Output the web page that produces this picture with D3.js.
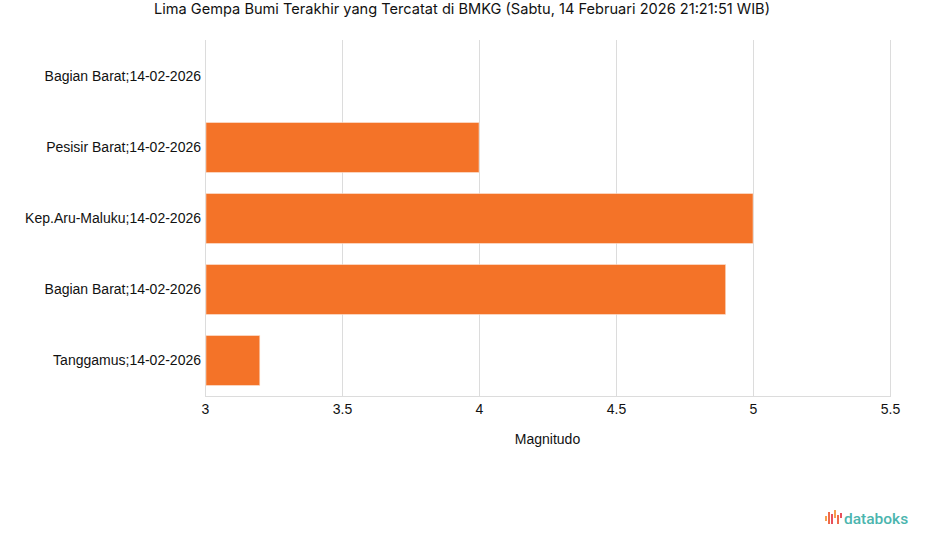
<!DOCTYPE html>
<html>
<head>
<meta charset="utf-8">
<script src="https://cdn.jsdelivr.net/npm/d3@7"></script>
<style>
  body{margin:0;background:#fff;font-family:"Liberation Sans",Arial,sans-serif;}
  .tick text{font-family:"Liberation Sans",Arial,sans-serif;}
</style>
</head>
<body>
<div class="Chart"></div>
<script>
const categories=['Bagian Barat;14-02-2026','Pesisir Barat;14-02-2026','Kep.Aru-Maluku;14-02-2026','Bagian Barat;14-02-2026','Tanggamus;14-02-2026']
const magnitudes=[3,4,5,4.9,3.2]
const xTicks=[3,3.5,4,4.5,5,5.5]
const titleText='Lima Gempa Bumi Terakhir yang Tercatat di BMKG (Sabtu, 14 Februari 2026 21:21:51 WIB)'

const W=925,H=547
const margin=({top:41,right:35,bottom:151,left:205})
const width=W-margin.left-margin.right,
      height=H-margin.top-margin.bottom

let root=d3.select('.Chart').append('svg')
  .attr('width',W)
  .attr('height',H)

root.append('text')
  .attr('x',462)
  .attr('y',14)
  .attr('text-anchor','middle')
  .attr('font-family','Inter,Roboto,sans-serif')
  .attr('font-size',14.6)
  .attr('fill','#111')
  .text(titleText)

let svg=root.append('g')
  .attr('transform','translate('+margin.left+','+margin.top+')')

let xScale=d3.scaleLinear()
  .domain([3,5.5])
  .range([0,width])

let yScale=d3.scaleBand()
  .domain(d3.range(categories.length))
  .range([0,height])
  .paddingInner(0.3)
  .paddingOuter(0.15)

// grid
svg.selectAll('.grid')
  .data(xTicks)
  .enter()
  .append('line')
  .attr('class','grid')
  .attr('x1',d=>xScale(d)+0.5)
  .attr('x2',d=>xScale(d)+0.5)
  .attr('y1',-1)
  .attr('y2',height)
  .attr('stroke','#dcdcdc')
  .attr('stroke-width',1)

svg.append('line')
  .attr('x1',0).attr('x2',width+1)
  .attr('y1',height+0.5).attr('y2',height+0.5)
  .attr('stroke','#dcdcdc')

svg.selectAll('.bar')
  .data(magnitudes)
  .enter()
  .append('rect')
  .attr('class','bar')
  .attr('x',xScale(3)+1)
  .attr('y',(d,i)=>yScale(i))
  .attr('width',d=>Math.max(0,xScale(d)-xScale(3)-1))
  .attr('height',yScale.bandwidth())
  .attr('fill','#f47328')
  .attr('stroke','#fbd9c4')
  .attr('stroke-width',d=>d>3?0.6:0)

let xAxis=d3.axisBottom(xScale)
  .tickValues(xTicks)
  .tickSize(0)
  .tickPadding(8)
  .tickFormat(d3.format('~g'))

svg.append('g')
  .attr('class','x-axis')
  .attr('transform',`translate(0,${height})`)
  .call(xAxis)
  .call(g=>g.select('.domain').remove())
  .call(g=>g.selectAll('text').attr('font-size',14).attr('fill','#111'))

let yAxis=d3.axisLeft(yScale)
  .tickSize(0)
  .tickPadding(4)
  .tickFormat(i=>categories[i])

svg.append('g')
  .attr('class','y-axis')
  .call(yAxis)
  .call(g=>g.select('.domain').remove())
  .call(g=>g.selectAll('text').attr('font-size',14).attr('fill','#111'))

svg.append('text')
  .attr('x',width/2)
  .attr('y',height+48)
  .attr('text-anchor','middle')
  .attr('font-size',14)
  .attr('fill','#111')
  .text('Magnitudo')

// logo
const logo=root.append('g').attr('transform','translate(825,510)')
const logoBars=[[0,6,5,'#f6a04d'],[3,2,12,'#ef6c4a'],[6,4,10,'#e8505b'],[9,0,8,'#f6a04d'],[12,5,9,'#ef6c4a'],[15,3,5,'#e8505b']]
logo.selectAll('rect')
  .data(logoBars)
  .enter()
  .append('rect')
  .attr('x',d=>d[0]).attr('y',d=>d[1])
  .attr('width',2).attr('height',d=>d[2])
  .attr('fill',d=>d[3])
logo.append('text')
  .attr('x',19).attr('y',14)
  .attr('font-family','Roboto,sans-serif')
  .attr('font-size',15.5)
  .attr('font-weight',500)
  .attr('fill','#4bb5ae')
  .text('databoks')
</script>
</body>
</html>
